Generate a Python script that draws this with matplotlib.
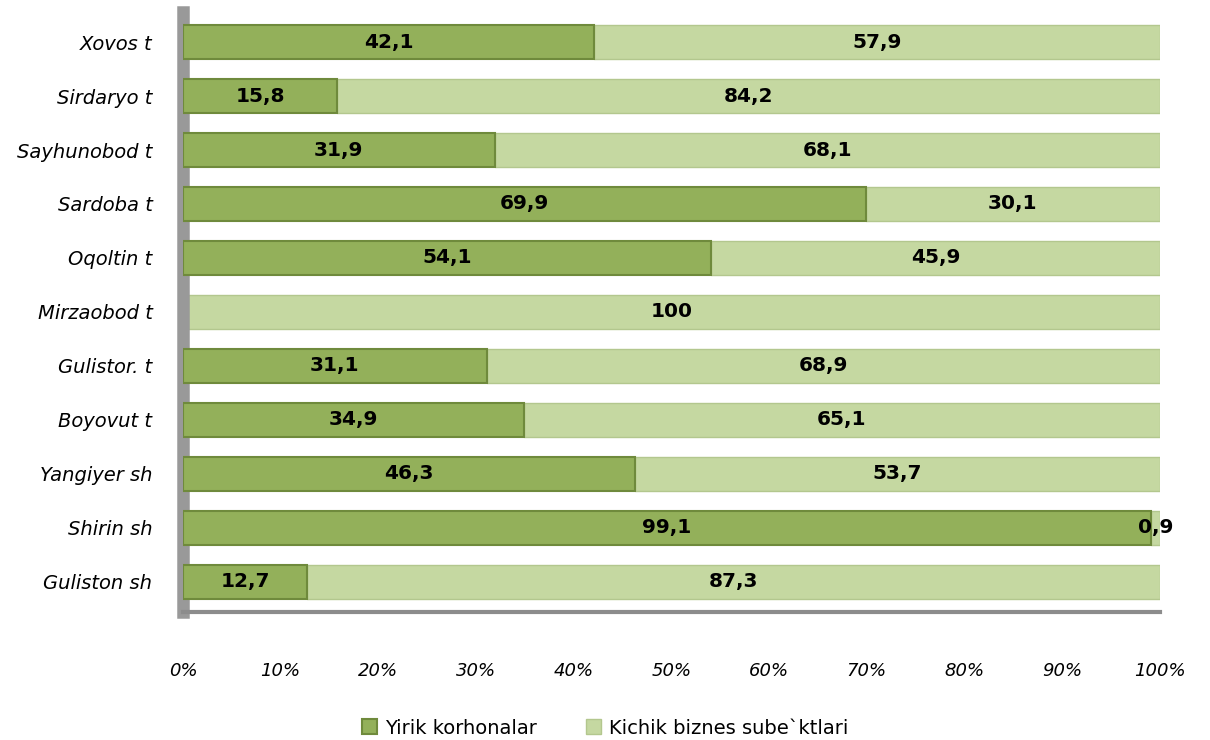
import matplotlib.pyplot as plt
import numpy as np

# data, bottom to top
categories = ['Guliston sh', 'Shirin sh', 'Yangiyer sh', 'Boyovut t', 'Gulistor. t',
              'Mirzaobod t', 'Oqoltin t', 'Sardoba t', 'Sayhunobod t', 'Sirdaryo t', 'Xovos t']
yirik = [12.7, 99.1, 46.3, 34.9, 31.1, 0, 54.1, 69.9, 31.9, 15.8, 42.1]
kichik = [87.3, 0.9, 53.7, 65.1, 68.9, 100, 45.9, 30.1, 68.1, 84.2, 57.9]
series_names = ['Yirik korhonalar', 'Kichik biznes sube`ktlari']
xticks = [0, 10, 20, 30, 40, 50, 60, 70, 80, 90, 100]

dark = '#93b05a'
dark_edge = '#6f8a3c'
light = '#c5d8a1'
light_edge = '#b3c78e'

fig = plt.figure(figsize=(12.1, 7.4), dpi=100)
ax = fig.add_axes([0.1512, 0.173, 0.8074, 0.811])

y = np.arange(len(categories))
h = 0.63
lw1 = [1.5 if v > 0 else 0 for v in yirik]
b1 = ax.barh(y, yirik, height=h, color=dark, edgecolor=dark_edge, linewidth=lw1,
             label=series_names[0], zorder=3)
b2 = ax.barh(y, kichik, left=yirik, height=h, color=light, edgecolor=light_edge,
             linewidth=1, label=series_names[1], zorder=2)

# value labels in the middle of each segment
for i in range(len(categories)):
    if yirik[i] > 0:
        ax.text(yirik[i] / 2, y[i], f'{yirik[i]:g}'.replace('.', ','), ha='center',
                va='center', fontsize=14.5, fontweight='bold', zorder=5)
    if kichik[i] > 0:
        ax.text(yirik[i] + kichik[i] / 2, y[i], f'{kichik[i]:g}'.replace('.', ','),
                ha='center', va='center', fontsize=14.5, fontweight='bold', zorder=5)

ax.set_xlim(0, 100)
ax.set_ylim(-0.56, 10.56)
ax.set_xticks(xticks)
ax.set_xticklabels([f'{t}%' for t in xticks], fontstyle='italic', fontsize=13)
ax.set_yticks(y)
ax.set_yticklabels(categories, fontstyle='italic', fontsize=14)
ax.tick_params(axis='x', length=0, pad=36)
ax.tick_params(axis='y', length=0, pad=22)

for s in ['top', 'right']:
    ax.spines[s].set_visible(False)
ax.spines['left'].set_color('#999999')
ax.spines['left'].set_linewidth(9)
ax.spines['bottom'].set_color('#8c8c8c')
ax.spines['bottom'].set_linewidth(3)

fig.legend(handles=[b1, b2], labels=series_names, loc='center', bbox_to_anchor=(0.5, 0.016),
           ncol=2, frameon=False, fontsize=14, handlelength=0.8, handleheight=0.8,
           columnspacing=2.5, handletextpad=0.4)

fig.savefig('out.png', dpi=100)
